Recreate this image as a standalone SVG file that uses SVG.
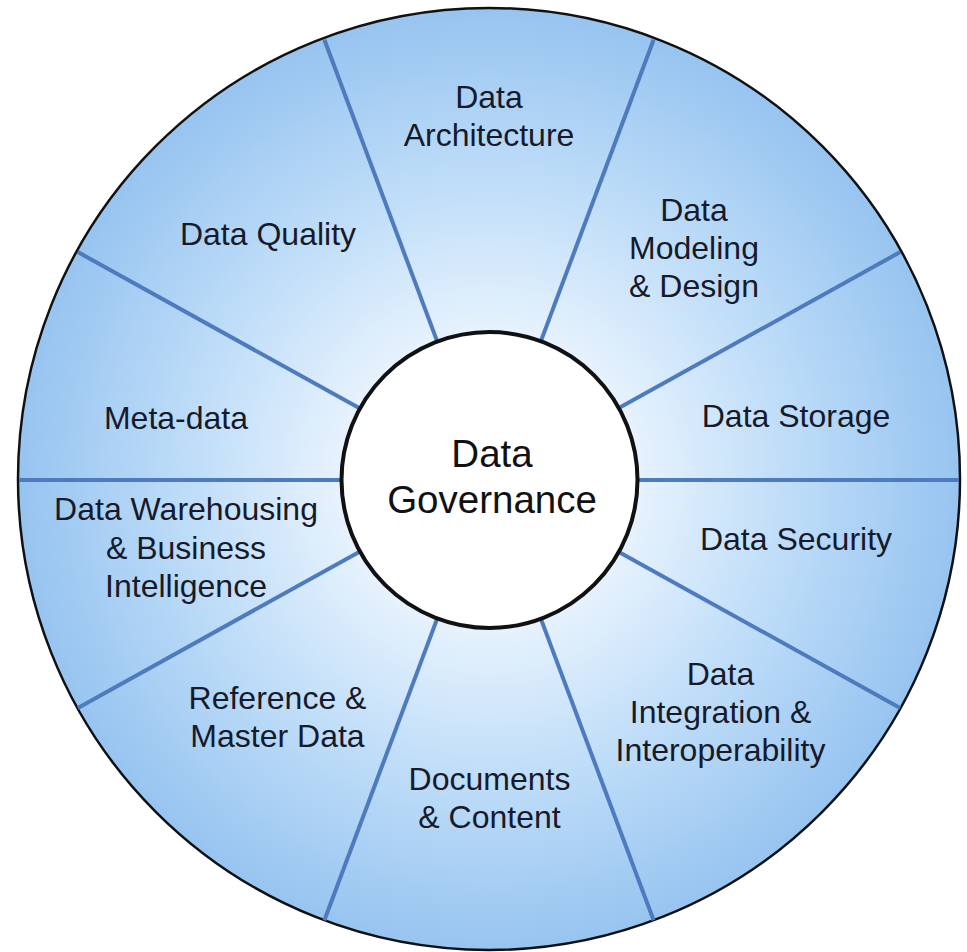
<svg xmlns="http://www.w3.org/2000/svg" width="967" height="952" viewBox="0 0 967 952">
  <style>
    .lbl { font-family: "Liberation Sans", Arial, sans-serif; font-size: 32px; fill: #161a2a; text-anchor: middle; }
    .ctr { font-family: "Liberation Sans", Arial, sans-serif; font-size: 38.5px; fill: #111111; text-anchor: middle; }
    .spoke { stroke: #4d7bbd; stroke-width: 4; stroke-linecap: butt; fill: none; }
  </style>
  <defs>
    <radialGradient id="wheelFill" cx="489" cy="480" r="471" gradientUnits="userSpaceOnUse">
      <stop offset="0" stop-color="#ffffff"/>
      <stop offset="0.32" stop-color="#e6f2fd"/>
      <stop offset="0.65" stop-color="#bddcf8"/>
      <stop offset="1" stop-color="#97c4f0"/>
    </radialGradient>
  </defs>
  <rect width="967" height="952" fill="#ffffff"/>
  <g id="wheel">
    <circle cx="489" cy="479" r="471" fill="url(#wheelFill)" stroke="#111111" stroke-width="2.5"/>
  </g>
  <g id="connectors">
    <line class="spoke" x1="637" y1="480" x2="959" y2="480"/>
    <line class="spoke" x1="618.4" y1="408.3" x2="900.1" y2="252.1"/>
    <line class="spoke" x1="540.8" y1="341.4" x2="653.6" y2="39.8"/>
    <line class="spoke" x1="437.2" y1="341.4" x2="324.4" y2="39.8"/>
    <line class="spoke" x1="359.6" y1="408.3" x2="77.9" y2="252.1"/>
    <line class="spoke" x1="341" y1="480" x2="19" y2="480"/>
    <line class="spoke" x1="359.6" y1="551.7" x2="77.9" y2="707.9"/>
    <line class="spoke" x1="437.2" y1="618.6" x2="324.4" y2="920.2"/>
    <line class="spoke" x1="540.8" y1="618.6" x2="653.6" y2="920.2"/>
    <line class="spoke" x1="618.4" y1="551.7" x2="900.1" y2="707.9"/>
  </g>
  <g id="data-governance">
    <circle cx="489.5" cy="480" r="148" fill="#ffffff" stroke="#111111" stroke-width="4"/>
    <text class="ctr" x="492" y="467">Data</text>
    <text class="ctr" x="492" y="513">Governance</text>
  </g>
  <g id="data-architecture">
    <text class="lbl" x="489" y="108">Data</text>
    <text class="lbl" x="489" y="146">Architecture</text>
  </g>
  <g id="data-modeling-design">
    <text class="lbl" x="694" y="221">Data</text>
    <text class="lbl" x="694" y="259">Modeling</text>
    <text class="lbl" x="694" y="297">&amp; Design</text>
  </g>
  <g id="data-storage">
    <text class="lbl" x="796" y="427">Data Storage</text>
  </g>
  <g id="data-security">
    <text class="lbl" x="796" y="550">Data Security</text>
  </g>
  <g id="data-integration">
    <text class="lbl" x="720.5" y="685">Data</text>
    <text class="lbl" x="720.5" y="723">Integration &amp;</text>
    <text class="lbl" x="720.5" y="761">Interoperability</text>
  </g>
  <g id="documents-content">
    <text class="lbl" x="489.5" y="790">Documents</text>
    <text class="lbl" x="489.5" y="828">&amp; Content</text>
  </g>
  <g id="reference-master-data">
    <text class="lbl" x="277.5" y="709">Reference &amp;</text>
    <text class="lbl" x="277.5" y="747">Master Data</text>
  </g>
  <g id="data-warehousing-bi">
    <text class="lbl" x="186" y="520">Data Warehousing</text>
    <text class="lbl" x="186" y="559">&amp; Business</text>
    <text class="lbl" x="186" y="597">Intelligence</text>
  </g>
  <g id="meta-data">
    <text class="lbl" x="176" y="429">Meta-data</text>
  </g>
  <g id="data-quality">
    <text class="lbl" x="268" y="245">Data Quality</text>
  </g>
</svg>
